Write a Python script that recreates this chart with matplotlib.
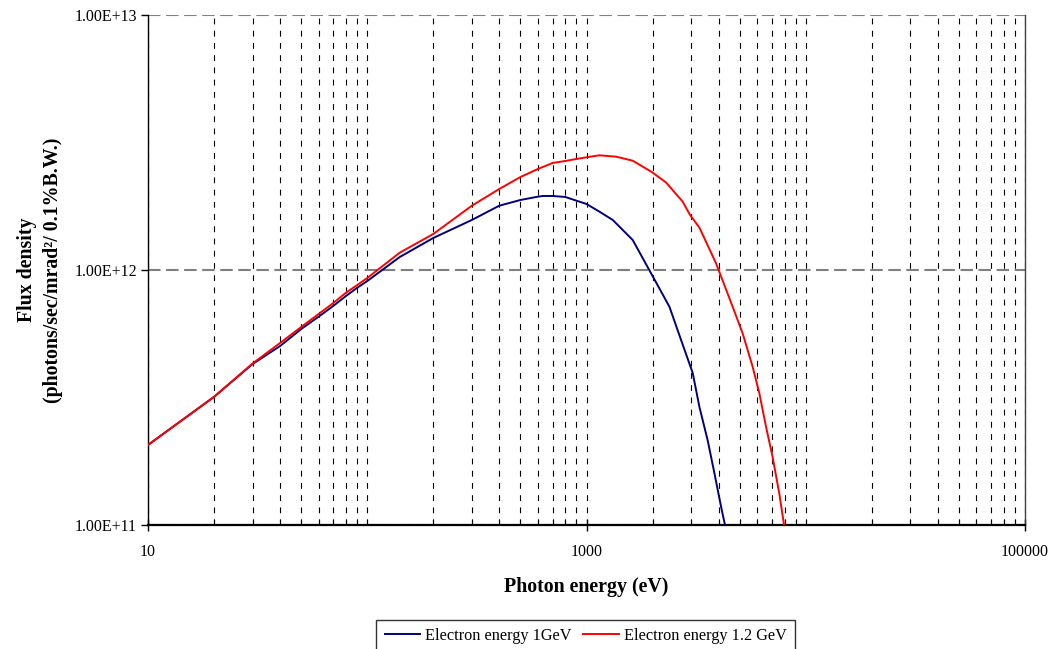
import matplotlib
matplotlib.use("Agg")
import matplotlib.pyplot as plt
from matplotlib.ticker import LogLocator, FixedLocator, FixedFormatter, NullFormatter

plt.rcParams['font.family'] = ['Liberation Serif', 'DejaVu Serif']
plt.rcParams['lines.scale_dashes'] = False

# Photon energy (eV) and flux density for 1 GeV electrons
energy_1gev = [10, 20, 30, 40, 50, 60, 70, 80, 90, 100, 140.6, 200, 300, 400, 500,
               600, 632, 700, 800, 900, 1000, 1146, 1318, 1625, 1971, 2389, 2701,
               3050, 3272, 3569, 3830, 4109, 4298]
flux_1gev = [2.06e11, 3.18e11, 4.28e11, 5.03e11, 5.87e11, 6.56e11, 7.23e11, 7.91e11,
             8.52e11, 9.05e11, 1.124e12, 1.335e12, 1.571e12, 1.787e12, 1.882e12,
             1.939e12, 1.951e12, 1.951e12, 1.934e12, 1.870e12, 1.815e12, 1.693e12,
             1.571e12, 1.311e12, 9.70e11, 7.18e11, 5.31e11, 3.95e11, 2.91e11,
             2.15e11, 1.60e11, 1.18e11, 0.985e11]

# Photon energy (eV) and flux density for 1.2 GeV electrons
energy_12gev = [10, 20, 30, 40, 50, 60, 70, 80, 90, 100, 140.6, 200, 300, 400, 500,
                600, 700, 800, 900, 1000, 1146, 1366, 1625, 1984, 2307, 2747, 2968,
                3272, 3899, 4640, 5152, 5723, 6141, 6588, 7059, 7573, 7982]
flux_12gev = [2.06e11, 3.18e11, 4.30e11, 5.17e11, 5.98e11, 6.72e11, 7.42e11, 8.15e11,
              8.73e11, 9.30e11, 1.169e12, 1.384e12, 1.787e12, 2.078e12, 2.316e12,
              2.489e12, 2.628e12, 2.676e12, 2.725e12, 2.767e12, 2.817e12, 2.782e12,
              2.683e12, 2.423e12, 2.204e12, 1.853e12, 1.643e12, 1.468e12, 1.062e12,
              7.18e11, 5.65e11, 4.18e11, 3.29e11, 2.43e11, 1.85e11, 1.33e11, 0.985e11]

series_labels = ["Electron energy 1GeV", "Electron energy 1.2 GeV"]
x_tick_values = [10, 1000, 100000]
x_tick_labels = ["10", "1000", "100000"]
y_tick_values = [1e11, 1e12, 1e13]
y_tick_labels = ["1.00E+11", "1.00E+12", "1.00E+13"]

fig = plt.figure(figsize=(10.52, 6.49), dpi=100)
ax = fig.add_axes([148/1052, 1-525/649, 877/1052, 510/649])

ax.set_xscale('log')
ax.set_yscale('log')
ax.set_xlim(10, 100000)
ax.set_ylim(1e11, 1e13)

ax.plot(energy_1gev, flux_1gev, color='#000080', lw=1.4, label=series_labels[0], zorder=3)
ax.plot(energy_12gev, flux_12gev, color='#FF0000', lw=1.4, label=series_labels[1], zorder=3)

ax.xaxis.set_major_locator(FixedLocator(x_tick_values))
ax.xaxis.set_major_formatter(FixedFormatter(x_tick_labels))
ax.xaxis.set_minor_locator(LogLocator(base=10, subs=range(1, 10), numticks=100))
ax.xaxis.set_minor_formatter(NullFormatter())
ax.yaxis.set_major_locator(FixedLocator(y_tick_values))
ax.yaxis.set_major_formatter(FixedFormatter(y_tick_labels))
ax.yaxis.set_minor_locator(FixedLocator([]))

ax.tick_params(axis='x', which='major', direction='inout', length=8, width=1, labelsize=11.5, pad=10)
ax.tick_params(axis='x', which='minor', direction='in', length=4, width=0.8)
ax.tick_params(axis='y', which='major', direction='out', length=5, width=1, labelsize=11.5, pad=3)

ax.grid(axis='x', which='both', color='black', lw=0.8, linestyle=(0, (4.2, 4.6)), zorder=1)
ax.grid(axis='y', which='major', color='#808080', lw=1.5, linestyle=(0, (9, 4)), zorder=1)
ax.set_axisbelow(True)

ax.spines['top'].set_visible(False)
ax.spines['left'].set_linewidth(1.0)
ax.spines['bottom'].set_linewidth(1.6)
ax.spines['right'].set_linewidth(1.0)
ax.spines['right'].set_color('#404040')

ax.set_xlabel("Photon energy (eV)", fontsize=14.3, fontweight='bold', labelpad=12)
ax.set_ylabel("Flux density\n(photons/sec/mrad\u00b2/ 0.1%B.W.)", fontsize=14.3,
              fontweight='bold', labelpad=8, linespacing=1.4)

leg = fig.legend(loc='upper center', bbox_to_anchor=(585.5/1052, 1-620/649), ncol=2,
                 fontsize=11.7, frameon=True, fancybox=False, handlelength=2.2,
                 handletextpad=0.3, columnspacing=0.7, borderpad=0.5, borderaxespad=0)
leg.get_frame().set_edgecolor('black')
leg.get_frame().set_linewidth(1.0)

fig.savefig("out.png", dpi=100)
